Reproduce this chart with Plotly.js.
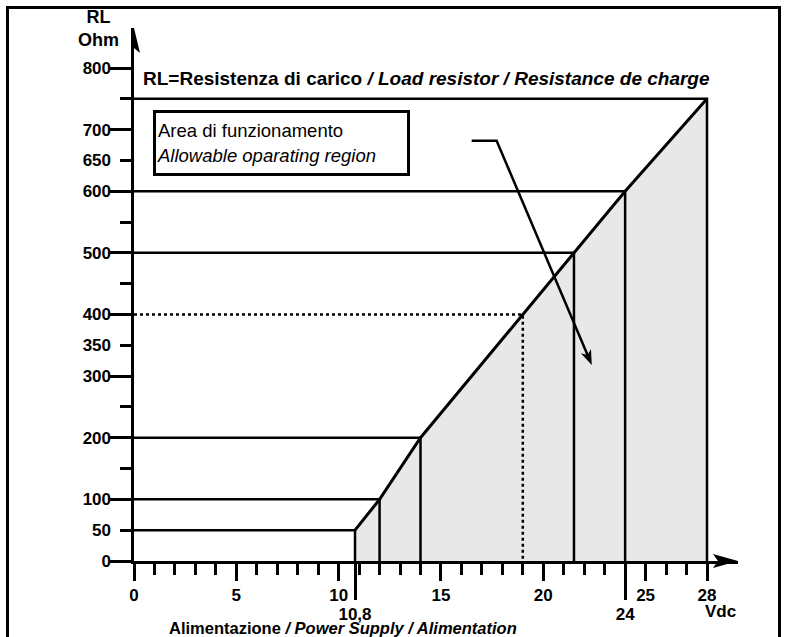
<!DOCTYPE html>
<html>
<head>
<meta charset="utf-8">
<script src="https://cdn.plot.ly/plotly-3.0.1.min.js"></script>
<style>html,body{margin:0;padding:0;background:#fff;}#chart{width:786px;height:637px;}</style>
</head>
<body>
<div id="chart"></div>
<script>
// ---- data ----
const supplyVoltage = [10.8, 12, 14, 19, 21.5, 24, 28];      // Vdc
const loadResistance = [50, 100, 200, 400, 500, 600, 750];   // Ohm
const dottedGuides = [400];                                  // example operating point drawn dotted

const xTickVals = [0, 5, 10, 15, 20, 25, 28];
const xTickText = ['0', '5', '10', '15', '20', '25', '28'];
const xMinorTicks = [1,2,3,4,6,7,8,9,11,12,13,14,16,17,18,19,21,22,23,24,26,27];
const xMarkedVals = [10.8, 24];
const xMarkedText = ['10,8', '24'];

const yMajorTicks = [0, 100, 200, 300, 400, 500, 600, 700, 800];
const yMinorTicks = [50, 150, 250, 350, 450, 550, 650, 750];
const yLabelVals = [0, 50, 100, 200, 300, 350, 400, 500, 600, 650, 700, 800];
const yLabelText = ['0', '50', '100', '200', '300', '350', '400', '500', '600', '650', '700', '800'];

const yAxisName = 'RL<br>Ohm';
const xUnitName = 'Vdc';
const topNote = 'RL=Resistenza di carico <i>/ Load resistor / Resistance de charge</i>';
const boxText = 'Area di funzionamento<br><i>Allowable oparating region</i>';
const bottomTitle = 'Alimentazione <i>/ Power Supply / Alimentation</i>';

// ---- layout geometry ----
const W = 786, H = 637;
const M = {l: 134, r: 48, t: 28, b: 76};
const plotW = W - M.l - M.r, plotH = H - M.t - M.b;
const xRange = [0, 29.515];
const yRange = [0, 864.9];
const pxX = plotW / (xRange[1] - xRange[0]);
const pxY = plotH / (yRange[1] - yRange[0]);
const paperX = px => (px - M.l) / plotW;
const paperY = py => (H - M.b - py) / plotH;

const BLACK = '#000';
const FAMILY = 'Liberation Sans, Arial, sans-serif';
const tickFont = {family: FAMILY, size: 17, color: BLACK, weight: 'bold'};
const labelFont = {family: FAMILY, size: 18, color: BLACK, weight: 'bold'};
const noteFont = {family: FAMILY, size: 19, color: BLACK, weight: 'bold'};
const titleFont = {family: FAMILY, size: 16.5, color: BLACK, weight: 'bold'};

// ---- traces ----
const fillX = [supplyVoltage[0]].concat(supplyVoltage, [supplyVoltage[supplyVoltage.length - 1]]);
const fillY = [0].concat(loadResistance, [0]);

const solidX = [], solidY = [], dotX = [], dotY = [];
supplyVoltage.forEach((v, i) => {
  const r = loadResistance[i];
  const dotted = dottedGuides.includes(r);
  (dotted ? dotX : solidX).push(0, v, v, null);
  (dotted ? dotY : solidY).push(r, r, 0, null);
});

const traces = [
  {x: fillX, y: fillY, mode: 'lines', fill: 'toself', fillcolor: '#e8e8e8',
   line: {width: 0}, hoverinfo: 'skip', showlegend: false},
  {x: solidX, y: solidY, mode: 'lines', line: {color: BLACK, width: 2.5},
   hoverinfo: 'skip', showlegend: false},
  {x: dotX, y: dotY, mode: 'lines', line: {color: BLACK, width: 2.5, dash: 'dot'},
   hoverinfo: 'skip', showlegend: false},
  {x: supplyVoltage, y: loadResistance, mode: 'lines', line: {color: BLACK, width: 3},
   hoverinfo: 'skip', showlegend: false},
  {x: [null], y: [null], yaxis: 'y2', xaxis: 'x', hoverinfo: 'skip', showlegend: false},
  {x: [null], y: [null], xaxis: 'x2', yaxis: 'y', hoverinfo: 'skip', showlegend: false}
];

// ---- arrowheads ----
function arrowPath(thetaDeg, L, Wd, N) {
  const t = thetaDeg * Math.PI / 180;
  const ux = Math.cos(t), uy = Math.sin(t);
  const nx = -uy, ny = ux;
  const p = (a, b) => a.toFixed(2) + ',' + b.toFixed(2);
  return 'M0,0 L' + p(-L * ux + Wd * nx, -L * uy + Wd * ny) +
         ' L' + p(-N * ux, -N * uy) +
         ' L' + p(-L * ux - Wd * nx, -L * uy - Wd * ny) + ' Z';
}

const pStart = [16.5, 682], pBend = [17.72, 682], pTip = [22.37, 318];
const dxp = (pTip[0] - pBend[0]) * pxX, dyp = (pTip[1] - pBend[1]) * pxY;
const pAng = Math.atan2(dyp, dxp) * 180 / Math.PI;
const pLen = Math.hypot(dxp, dyp);
const back = 10 / pLen;
const pEnd = [pTip[0] - (pTip[0] - pBend[0]) * back, pTip[1] - (pTip[1] - pBend[1]) * back];

const shapes = [
  {type: 'rect', xref: 'paper', yref: 'paper',
   x0: paperX(7.5), x1: paperX(779.5), y0: paperY(7.5), y1: paperY(700),
   line: {color: BLACK, width: 3}, layer: 'above'},
  {type: 'path', xref: 'x', yref: 'y', xsizemode: 'pixel', ysizemode: 'pixel',
   xanchor: 0, yanchor: yRange[1], path: arrowPath(90, 25, 6, 20),
   fillcolor: BLACK, line: {width: 0}, layer: 'above'},
  {type: 'path', xref: 'x', yref: 'paper', xsizemode: 'pixel', ysizemode: 'pixel',
   xanchor: xRange[1], yanchor: 0, path: arrowPath(0, 25, 7, 20),
   fillcolor: BLACK, line: {width: 0}, layer: 'above'},
  {type: 'path', xref: 'x', yref: 'y',
   path: 'M' + pStart[0] + ',' + pStart[1] + ' L' + pBend[0] + ',' + pBend[1] + ' L' + pEnd[0] + ',' + pEnd[1],
   line: {color: BLACK, width: 2.5}, layer: 'above'},
  {type: 'path', xref: 'x', yref: 'y', xsizemode: 'pixel', ysizemode: 'pixel',
   xanchor: pTip[0], yanchor: pTip[1], path: arrowPath(pAng, 15, 5.5, 11),
   fillcolor: BLACK, line: {width: 0}, layer: 'above'}
];

const annotations = [
  {xref: 'paper', yref: 'paper', x: paperX(98), y: paperY(28), text: '<b>' + yAxisName + '</b>',
   showarrow: false, font: labelFont, xanchor: 'center', yanchor: 'middle'},
  {xref: 'paper', yref: 'paper', x: paperX(141), y: paperY(78), text: '<b>' + topNote + '</b>',
   showarrow: false, font: noteFont, xanchor: 'left', yanchor: 'middle'},
  {xref: 'paper', yref: 'paper', x: paperX(153), y: paperY(110), text: boxText,
   showarrow: false, xanchor: 'left', yanchor: 'top', align: 'left', valign: 'middle',
   width: 249, height: 58, borderwidth: 3, borderpad: 1, bordercolor: BLACK, bgcolor: '#fff',
   font: {family: FAMILY, size: 18.5, color: BLACK}},
  {xref: 'x', yref: 'paper', x: 28, y: paperY(611), text: '<b>' + xUnitName + '</b>',
   showarrow: false, font: tickFont, xanchor: 'left', yanchor: 'middle', xshift: -4},
  {xref: 'paper', yref: 'paper', x: paperX(343), y: paperY(627.5), text: '<b>' + bottomTitle + '</b>',
   showarrow: false, font: titleFont, xanchor: 'center', yanchor: 'middle'}
];

const layout = {
  width: W, height: H,
  margin: M,
  paper_bgcolor: '#fff', plot_bgcolor: '#fff',
  showlegend: false,
  xaxis: {
    range: xRange, showgrid: false, zeroline: false,
    showline: true, linecolor: BLACK, linewidth: 3,
    tickmode: 'array', tickvals: xTickVals, ticktext: xTickText,
    ticks: 'outside', ticklen: 17, tickwidth: 3, tickcolor: BLACK,
    tickfont: tickFont,
    minor: {tickmode: 'array', tickvals: xMinorTicks, ticks: 'outside', ticklen: 11, tickwidth: 3, tickcolor: BLACK, showgrid: false}
  },
  xaxis2: {
    overlaying: 'x', matches: 'x', anchor: 'y', side: 'bottom',
    showgrid: false, zeroline: false, showline: false,
    tickmode: 'array', tickvals: xMarkedVals, ticktext: xMarkedText,
    ticks: 'outside', ticklen: 38, tickwidth: 3, tickcolor: BLACK,
    tickfont: tickFont
  },
  yaxis: {
    range: yRange, showgrid: false, zeroline: false,
    showline: true, linecolor: BLACK, linewidth: 3,
    tickmode: 'array', tickvals: yMajorTicks, showticklabels: false,
    ticks: 'outside', ticklen: 21, tickwidth: 3, tickcolor: BLACK,
    minor: {tickmode: 'array', tickvals: yMinorTicks, ticks: 'outside', ticklen: 11, tickwidth: 3, tickcolor: BLACK, showgrid: false}
  },
  yaxis2: {
    overlaying: 'y', matches: 'y', anchor: 'x', side: 'left',
    showgrid: false, zeroline: false, showline: false,
    tickmode: 'array', tickvals: yLabelVals, ticktext: yLabelText,
    ticks: '', ticklabelstandoff: 22,
    tickfont: tickFont
  },
  shapes: shapes,
  annotations: annotations
};

Plotly.newPlot('chart', traces, layout, {staticPlot: true, displayModeBar: false});
</script>
</body>
</html>
